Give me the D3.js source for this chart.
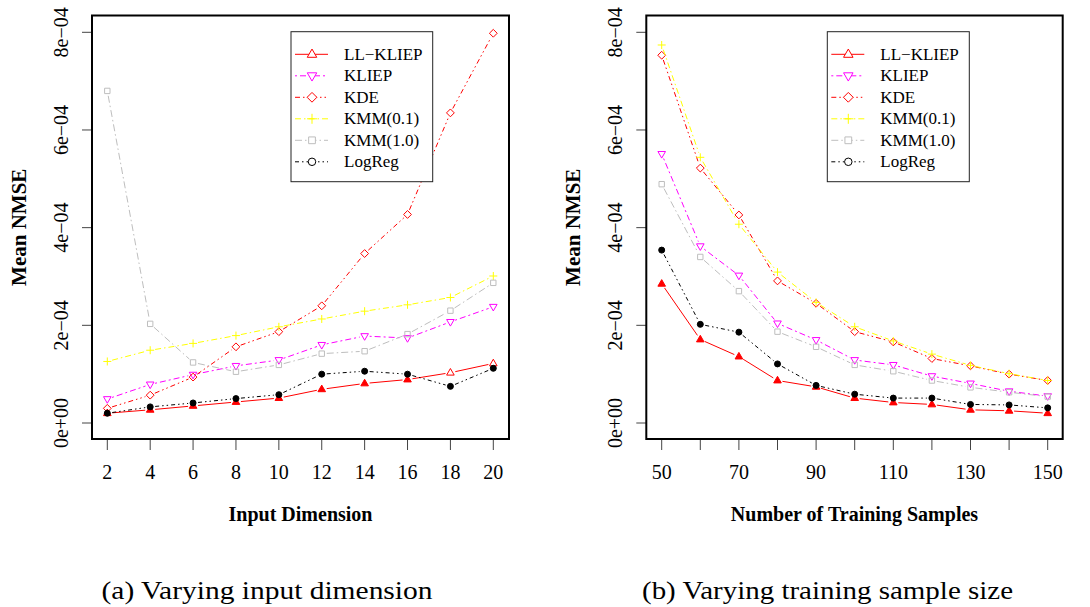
<!DOCTYPE html>
<html>
<head>
<meta charset="utf-8">
<script src="https://cdn.jsdelivr.net/npm/d3@7"></script>
<style>
  body { margin: 0; background: #fff; }
  svg { display: block; }
</style>
</head>
<body>
<script>
// valores (unidad 1e-4)
var dims = [2, 4, 6, 8, 10, 12, 14, 16, 18, 20];
var samples = [50, 60, 70, 80, 90, 100, 110, 120, 130, 140, 150];

var seriesNames = ["LL\u2212KLIEP", "KLIEP", "KDE", "KMM(0.1)", "KMM(1.0)", "LogReg"];

var dimLLKLIEP = [0.20, 0.27, 0.35, 0.43, 0.51, 0.69, 0.81, 0.89, 1.03, 1.22];
var dimKLIEP   = [0.49, 0.79, 0.99, 1.17, 1.29, 1.60, 1.78, 1.74, 2.07, 2.38];
var dimKDE     = [0.30, 0.57, 0.94, 1.56, 1.87, 2.40, 3.47, 4.27, 6.35, 7.98];
var dimKMM01   = [1.26, 1.49, 1.63, 1.79, 1.97, 2.13, 2.29, 2.42, 2.57, 3.01];
var dimKMM10   = [6.80, 2.03, 1.24, 1.05, 1.19, 1.42, 1.47, 1.82, 2.30, 2.87];
var dimLogReg  = [0.20, 0.33, 0.41, 0.50, 0.58, 1.00, 1.06, 1.00, 0.75, 1.12];

var smpLLKLIEP = [2.85, 1.71, 1.36, 0.87, 0.74, 0.51, 0.42, 0.38, 0.27, 0.25, 0.20];
var smpKLIEP   = [5.51, 3.62, 3.02, 2.04, 1.70, 1.29, 1.19, 0.96, 0.81, 0.65, 0.55];
var smpKDE     = [7.53, 5.22, 4.26, 2.91, 2.45, 1.87, 1.66, 1.32, 1.17, 1.00, 0.87];
var smpKMM01   = [7.74, 5.44, 4.07, 3.09, 2.47, 1.97, 1.68, 1.41, 1.18, 1.01, 0.87];
var smpKMM10   = [4.89, 3.40, 2.70, 1.87, 1.56, 1.19, 1.06, 0.87, 0.73, 0.63, 0.54];
var smpLogReg  = [3.54, 2.02, 1.86, 1.21, 0.77, 0.59, 0.51, 0.51, 0.38, 0.37, 0.31];

// puntos rellenos (mejor metodo) en cada panel
var dimLLKLIEPFilled = [true, true, true, true, true, true, true, true, false, false];

var yTicks = [0, 2e-4, 4e-4, 6e-4, 8e-4];
var yTickLabels = ["0e+00", "2e\u221204", "4e\u221204", "6e\u221204", "8e\u221204"];
var dimTicks = dims;
var smpTicks = samples;
var smpTickLabels = ["50", "", "70", "", "90", "", "110", "", "130", "", "150"];

// estilos de cada serie
var styles = [
  { color: "#ff0000", dash: null,               shape: "tri" },
  { color: "#ff00ff", dash: "2,3,6,3",          shape: "tridown" },
  { color: "#ff0000", dash: "5,3,1.5,3,1.5,3",  shape: "diamond" },
  { color: "#ffff00", dash: "6,3,1.5,3",        shape: "plus" },
  { color: "#bebebe", dash: "7,3,1.5,3",        shape: "square" },
  { color: "#000000", dash: "4,3,1.5,3,1.5,3",  shape: "circle" }
];

var FONT = "'Liberation Serif', 'Times New Roman', Times, 'DejaVu Serif', serif";

var W = 1090, H = 607;
var svg = d3.select("body").append("svg").attr("width", W).attr("height", H)
  .attr("font-family", FONT);

function markerPath(shape, s) {
  var p = d3.path();
  if (shape === "tri") {
    p.moveTo(0, -4.2 * s); p.lineTo(3.8 * s, 2.4 * s); p.lineTo(-3.8 * s, 2.4 * s); p.closePath();
  } else if (shape === "tridown") {
    p.moveTo(0, 4.2 * s); p.lineTo(3.8 * s, -2.4 * s); p.lineTo(-3.8 * s, -2.4 * s); p.closePath();
  } else if (shape === "diamond") {
    p.moveTo(0, -3.9 * s); p.lineTo(3.9 * s, 0); p.lineTo(0, 3.9 * s); p.lineTo(-3.9 * s, 0); p.closePath();
  } else if (shape === "plus") {
    p.moveTo(-4 * s, 0); p.lineTo(4 * s, 0); p.moveTo(0, -4 * s); p.lineTo(0, 4 * s);
  } else if (shape === "square") {
    p.rect(-2.7 * s, -2.7 * s, 5.4 * s, 5.4 * s);
  } else {
    p.arc(0, 0, 3 * s, 0, 2 * Math.PI);
  }
  return p.toString();
}

function drawPanel(cfg) {
  var g = svg.append("g");
  var x = d3.scaleLinear().domain(cfg.xDomain).range(cfg.xRange);
  var y = d3.scaleLinear().domain([0, 8e-4]).range([423, 32.3]);
  var left = cfg.box[0], right = cfg.box[1], top = 15.5, bottom = 439;

  // ticks eje y
  yTicks.forEach(function(t, i) {
    g.append("line").attr("x1", left - 10).attr("x2", left)
      .attr("y1", y(t)).attr("y2", y(t)).attr("stroke", "#444").attr("stroke-width", 1);
    g.append("text").attr("transform", "translate(" + cfg.yLabelX + "," + y(t) + ") rotate(-90)")
      .attr("text-anchor", "middle").attr("dominant-baseline", "central")
      .attr("font-size", 20).text(yTickLabels[i]);
  });

  // ticks eje x
  cfg.xTicks.forEach(function(t, i) {
    g.append("line").attr("x1", x(t)).attr("x2", x(t))
      .attr("y1", bottom).attr("y2", bottom + 11).attr("stroke", "#444").attr("stroke-width", 1);
    g.append("text").attr("x", x(t)).attr("y", 472)
      .attr("text-anchor", "middle").attr("dominant-baseline", "central")
      .attr("font-size", 20).text(cfg.xTickLabels[i]);
  });

  // series
  cfg.series.forEach(function(vals, si) {
    var st = styles[si];
    var pts = vals.map(function(v, i) { return [x(cfg.xs[i]), y(v * 1e-4)]; });
    var gap = 5;
    for (var i = 0; i < pts.length - 1; i++) {
      var a = pts[i], b = pts[i + 1];
      var dx = b[0] - a[0], dy = b[1] - a[1], len = Math.sqrt(dx * dx + dy * dy);
      if (len <= 2 * gap) continue;
      var ux = dx / len, uy = dy / len;
      g.append("line")
        .attr("x1", a[0] + ux * gap).attr("y1", a[1] + uy * gap)
        .attr("x2", b[0] - ux * gap).attr("y2", b[1] - uy * gap)
        .attr("stroke", st.color).attr("stroke-width", 1)
        .attr("stroke-dasharray", st.dash);
    }
    pts.forEach(function(p, i) {
      var filled = cfg.filled[si] ? cfg.filled[si][i] : false;
      g.append("path").attr("d", markerPath(st.shape, 1))
        .attr("transform", "translate(" + p[0] + "," + p[1] + ")")
        .attr("fill", filled ? st.color : "none")
        .attr("stroke", st.color).attr("stroke-width", 1);
    });
  });

  // caja
  g.append("rect").attr("x", left).attr("y", top).attr("width", right - left).attr("height", bottom - top)
    .attr("fill", "none").attr("stroke", "#000").attr("stroke-width", 2);

  // leyenda
  var lx = cfg.legend[0], lx2 = cfg.legend[1];
  g.append("rect").attr("x", lx).attr("y", 31.7).attr("width", lx2 - lx).attr("height", 150)
    .attr("fill", "#fff").attr("stroke", "#222").attr("stroke-width", 1);
  seriesNames.forEach(function(name, si) {
    var st = styles[si];
    var ly = 54.3 + si * 21.5;
    g.append("line").attr("x1", lx + 4).attr("x2", lx + 37).attr("y1", ly).attr("y2", ly)
      .attr("stroke", st.color).attr("stroke-width", 1).attr("stroke-dasharray", st.dash);
    g.append("path").attr("d", markerPath(st.shape, 1.25))
      .attr("transform", "translate(" + (lx + 21) + "," + ly + ")")
      .attr("fill", "#fff").attr("stroke", st.color).attr("stroke-width", 1);
    g.append("text").attr("x", lx + 53).attr("y", ly).attr("dominant-baseline", "central")
      .attr("font-size", 17).text(name);
  });

  // titulos
  g.append("text").attr("x", (left + right) / 2).attr("y", 514)
    .attr("text-anchor", "middle").attr("dominant-baseline", "central")
    .attr("font-size", 20).attr("font-weight", "bold").text(cfg.xTitle);
  g.append("text").attr("transform", "translate(" + cfg.yTitleX + "," + (top + bottom) / 2 + ") rotate(-90)")
    .attr("text-anchor", "middle").attr("dominant-baseline", "central")
    .attr("font-size", 21).attr("font-weight", "bold").text("Mean NMSE");
  g.append("text").attr("x", cfg.caption[0]).attr("y", 590)
    .attr("text-anchor", "middle").attr("dominant-baseline", "central")
    .attr("textLength", cfg.caption[1]).attr("lengthAdjust", "spacingAndGlyphs")
    .attr("font-size", 25).text(cfg.caption[2]);
}

drawPanel({
  xs: dims, xDomain: [2, 20], xRange: [107.3, 493.3],
  xTicks: dimTicks, xTickLabels: dimTicks.map(String),
  box: [92, 509], legend: [291, 432.7], yLabelX: 61, yTitleX: 19,
  series: [dimLLKLIEP, dimKLIEP, dimKDE, dimKMM01, dimKMM10, dimLogReg],
  filled: [dimLLKLIEPFilled, null, null, null, null, dims.map(function() { return true; })],
  xTitle: "Input Dimension",
  caption: [267, 331, "(a) Varying input dimension"]
});

drawPanel({
  xs: samples, xDomain: [50, 150], xRange: [661.7, 1047.7],
  xTicks: smpTicks, xTickLabels: smpTickLabels,
  box: [646.3, 1062.7], legend: [827.3, 969.3], yLabelX: 615, yTitleX: 573,
  series: [smpLLKLIEP, smpKLIEP, smpKDE, smpKMM01, smpKMM10, smpLogReg],
  filled: [samples.map(function() { return true; }), null, null, null, null, samples.map(function() { return true; })],
  xTitle: "Number of Training Samples",
  caption: [827.5, 371, "(b) Varying training sample size"]
});
</script>
</body>
</html>
